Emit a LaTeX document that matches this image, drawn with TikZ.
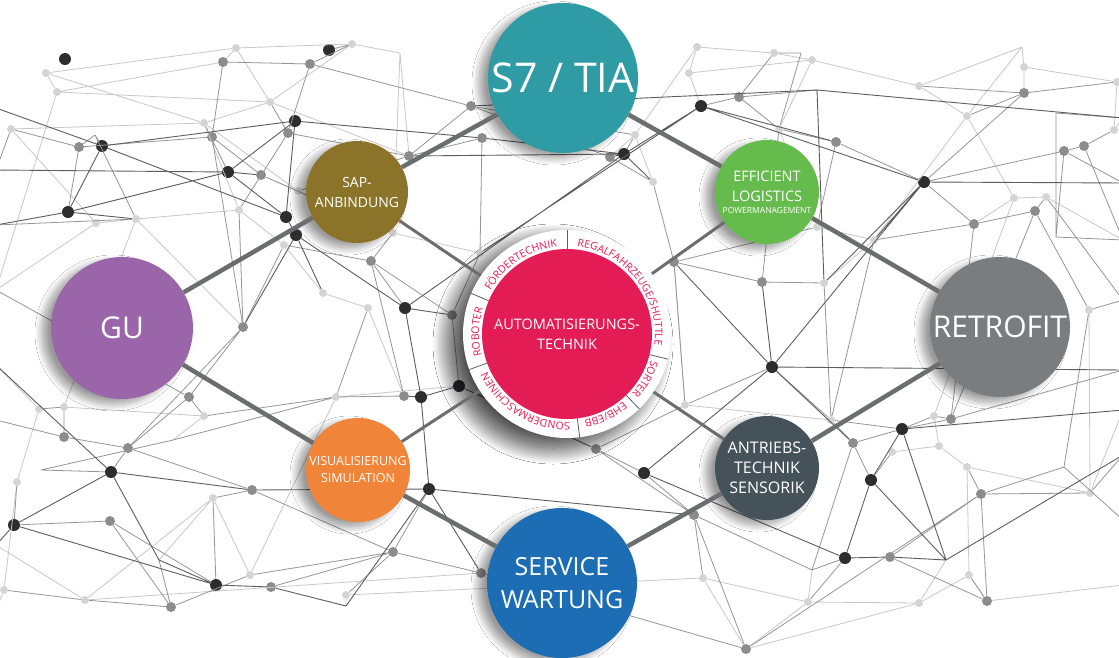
\documentclass[tikz,border=0pt]{standalone}
\usepackage{fontspec}
\setmainfont{Open Sans}
\usetikzlibrary{shadows.blur,decorations.text}

\definecolor{tiateal}{RGB}{47,156,165}
\definecolor{sapbrown}{RGB}{139,116,41}
\definecolor{logigreen}{RGB}{101,187,76}
\definecolor{gupurple}{RGB}{155,101,170}
\definecolor{retrogray}{RGB}{122,125,127}
\definecolor{autopink}{RGB}{228,28,85}
\definecolor{visorange}{RGB}{240,132,56}
\definecolor{drivegray}{RGB}{70,82,90}
\definecolor{serviceblue}{RGB}{29,109,180}
\definecolor{linkgray}{RGB}{108,109,111}
\definecolor{meshdark}{RGB}{92,93,95}
\definecolor{meshmid}{RGB}{150,150,152}
\definecolor{meshlight}{RGB}{200,200,202}
\definecolor{dotdark}{RGB}{45,45,48}
\definecolor{dotmid}{RGB}{140,140,142}
\definecolor{dotlight}{RGB}{212,212,214}

\newcommand{\ringfont}{\fontsize{10.5}{11}\selectfont}

\tikzset{
  hub/.style={circle, draw=none, text=white, inner sep=0pt, align=center,
    blur shadow={shadow xshift=-9pt, shadow yshift=-5pt, shadow blur radius=7pt, shadow blur steps=16, shadow opacity=40}},
  dk/.style={circle, fill=dotdark, inner sep=0pt, minimum size=12},
  md/.style={circle, fill=dotmid, inner sep=0pt, minimum size=10},
  lt/.style={circle, fill=dotlight, inner sep=0pt, minimum size=8},
  dkline/.style={draw=meshdark, line width=0.9pt},
  mdline/.style={draw=meshmid, line width=0.8pt},
  ltline/.style={draw=meshlight, line width=0.8pt},
  link/.style={draw=linkgray, line width=4.5pt},
  spoke/.style={draw=linkgray, line width=3pt},
  ringsep/.style={draw=meshdark, line width=0.8pt}
}

\begin{document}
\begin{tikzpicture}[x=1pt, y=1pt]
\useasboundingbox (0,0) rectangle (1119,-657);
\fill[white] (0,0) rectangle (1119,-657);

% mesh dots, upper left
\node[dk] (p1) at (65,-59) {};
\node[dk] (p2) at (329,-50) {};
\node[lt] (p3) at (352,-44) {};
\node[lt] (p4) at (236,-48) {};
\node[md] (p5) at (223,-62) {};
\node[md] (p6) at (310,-64) {};
\node[lt] (p7) at (46,-73) {};
\node[lt] (p8) at (57,-92) {};
\node[lt] (p9) at (11,-129) {};
\node[md] (p10) at (79,-147) {};
\node[dk] (p11) at (102,-146) {};
\node[lt] (p12) at (204,-123) {};
\node[md] (p13) at (212,-137) {};
\node[lt] (p14) at (270,-102) {};
\node[dk] (p15) at (295,-121) {};
\node[md] (p16) at (288,-133) {};
\node[dk] (p17) at (228,-172) {};
\node[md] (p18) at (261,-175) {};
\node[dk] (p19) at (68,-212) {};
\node[lt] (p20) at (96,-223) {};
\node[lt] (p21) at (136,-219) {};
\node[lt] (p22) at (239,-210) {};
\node[dk] (p23) at (286,-217) {};
\node[dk] (p24) at (296,-235) {};
\node[lt] (p25) at (298,-191) {};
\node[md] (p26) at (409,-156) {};
\node[md] (p27) at (471,-106) {};
\node[md] (p28) at (482,-138) {};
\node[md] (p29) at (371,-261) {};
\node[dk] (p30) at (405,-308) {};
\node[md] (p31) at (452,-315) {};
\node[md] (p32) at (243,-327) {};
\node[lt] (p33) at (284,-245) {};
\node[lt] (p34) at (323,-293) {};
\node[lt] (p35) at (368,-308) {};
\node[lt] (p36) at (393,-233) {};
\node[lt] (p37) at (480,-253) {};
\coordinate (c1) at (400,-53);
\coordinate (c2) at (95,-135);

% mesh dots, upper right
\node[lt] (q1) at (697,-47) {};
\node[lt] (q2) at (774,-53) {};
\node[lt] (q3) at (812,-60) {};
\node[lt] (q4) at (919,-86) {};
\node[lt] (q5) at (1024,-67) {};
\node[md] (q6) at (1024,-93) {};
\node[lt] (q7) at (1117,-82) {};
\node[lt] (q8) at (689,-73) {};
\node[md] (q9) at (739,-97) {};
\node[dk] (q10) at (701,-106) {};
\node[lt] (q11) at (635,-135) {};
\node[dk] (q12) at (624,-154) {};
\node[md] (q13) at (610,-157) {};
\node[lt] (q14) at (779,-129) {};
\node[md] (q15) at (836,-142) {};
\node[dk] (q16) at (924,-182) {};
\node[lt] (q17) at (967,-116) {};
\node[md] (q18) at (1064,-151) {};
\node[md] (q19) at (1084,-146) {};
\node[lt] (q20) at (1114,-130) {};
\node[md] (q21) at (974,-224) {};
\node[md] (q22) at (1035,-211) {};
\node[lt] (q23) at (1046,-197) {};
\node[lt] (q24) at (1014,-198) {};
\node[lt] (q25) at (874,-240) {};
\node[lt] (q26) at (817,-227) {};
\node[md] (q27) at (762,-282) {};
\node[lt] (q28) at (824,-283) {};
\node[md] (q29) at (674,-262) {};
\node[lt] (q30) at (653,-182) {};
\node[lt] (q31) at (1089,-310) {};
\coordinate (c3) at (801,-53);
\coordinate (c4) at (1022,-47);
\coordinate (c5) at (817,-90);
\coordinate (c6) at (1056,-113);
\coordinate (c7) at (1056,-237);

% mesh dots, lower left
\node[lt] (r1) at (39,-409) {};
\node[lt] (r2) at (64,-407) {};
\node[md] (r3) at (64,-437) {};
\node[md] (r4) at (128,-448) {};
\node[dk] (r5) at (111,-472) {};
\node[lt] (r6) at (17,-482) {};
\node[dk] (r7) at (14,-525) {};
\node[md] (r8) at (110,-521) {};
\node[lt] (r9) at (4,-590) {};
\node[lt] (r10) at (85,-600) {};
\node[md] (r11) at (171,-607) {};
\node[dk] (r12) at (216,-585) {};
\node[md] (r13) at (271,-587) {};
\node[lt] (r14) at (250,-575) {};
\node[lt] (r15) at (346,-595) {};
\node[md] (r16) at (393,-552) {};
\node[md] (r17) at (481,-573) {};
\node[md] (r18) at (252,-490) {};
\node[md] (r19) at (189,-397) {};
\node[lt] (r20) at (204,-416) {};
\node[lt] (r22) at (336,-397) {};
\node[md] (r23) at (404,-396) {};
\node[dk] (r24) at (421,-397) {};
\node[dk] (r25) at (429,-489) {};
\node[dk] (r26) at (459,-386) {};
\node[lt] (r27) at (213,-498) {};
\coordinate (c8) at (346,-606);
\coordinate (c9) at (159,-560);
\coordinate (c10) at (41,-470);
\coordinate (c11) at (173,-440);

% mesh dots, lower right
\node[dk] (s1) at (772,-367) {};
\node[md] (s2) at (596,-449) {};
\node[dk] (s3) at (644,-473) {};
\node[md] (s4) at (853,-443) {};
\node[dk] (s5) at (902,-429) {};
\node[dk] (s6) at (871,-480) {};
\node[dk] (s7) at (845,-558) {};
\node[md] (s8) at (890,-557) {};
\node[md] (s9) at (951,-419) {};
\node[lt] (s10) at (934,-416) {};
\node[lt] (s11) at (939,-446) {};
\node[lt] (s12) at (967,-467) {};
\node[md] (s13) at (981,-494) {};
\node[lt] (s14) at (1090,-493) {};
\node[md] (s15) at (694,-515) {};
\node[lt] (s16) at (703,-578) {};
\node[lt] (s17) at (808,-602) {};
\node[lt] (s18) at (919,-603) {};
\node[lt] (s19) at (969,-575) {};
\node[md] (s20) at (987,-601) {};
\node[md] (s21) at (746,-649) {};
\node[lt] (s22) at (831,-420) {};
\node[lt] (s23) at (685,-405) {};
\node[lt] (s24) at (892,-452) {};
\coordinate (c12) at (946,-560);
\coordinate (c13) at (1064,-467);
\coordinate (c14) at (812,-570);

% free ends at the borders
\coordinate (l1) at (-4,-108);
\coordinate (l2) at (-4,-170);
\coordinate (l3) at (-4,-225);
\coordinate (l4) at (-4,-290);
\coordinate (l5) at (-4,-365);
\coordinate (l6) at (-4,-420);
\coordinate (l8) at (-4,-545);
\coordinate (l9) at (-4,-610);
\coordinate (e1) at (1123,-118);
\coordinate (e2) at (1123,-183);
\coordinate (e3) at (1123,-240);
\coordinate (e4) at (1123,-300);
\coordinate (e5) at (1123,-370);
\coordinate (e6) at (1123,-410);
\coordinate (e7) at (1123,-455);
\coordinate (e8) at (1123,-520);
\coordinate (e9) at (1123,-585);

% light mesh
\draw[ltline] (p7) -- (p4) (p4) -- (p3) (p7) -- (p8) (p8) -- (p5) (p8) -- (p14) (p4) -- (p14)
  (p14) -- (p26) (p12) -- (p9) (p12) -- (p25) (p12) -- (p22) (p20) -- (p21) (p21) -- (p22)
  (p22) -- (p33) (p33) -- (p34) (p34) -- (p35) (p36) -- (p37) (p21) -- (p32) (p20) -- (p9)
  (c1) -- (p26) (c1) -- (p36) (p3) -- (c1) (p14) -- (p12) (p25) -- (p36) (p35) -- (r23)
  (p8) -- (l4) (p20) -- (l4) (p5) -- (p4) (p3) -- (p14) (p7) -- (p12) (p21) -- (r2);
\draw[ltline] (q1) -- (q2) (q1) -- (q8) (q8) -- (q3) (q3) -- (q4) (q4) -- (c4) (c4) -- (q5)
  (q5) -- (q7) (q1) -- (q11) (q11) -- (q13) (q17) -- (q25) (q17) -- (q24) (q24) -- (q23)
  (q30) -- (q11) (q14) -- (q26) (q26) -- (q25) (q25) -- (q28) (q8) -- (q10) (q3) -- (q14)
  (q4) -- (q17) (q20) -- (e1) (q23) -- (e3) (q24) -- (q21) (c4) -- (q17) (q2) -- (q3)
  (q5) -- (q6) (q7) -- (q20) (q24) -- (s10) (q31) -- (s14);
\draw[ltline] (r1) -- (r6) (r2) -- (r20) (r6) -- (r9) (r27) -- (r10) (r14) -- (r27) (r15) -- (c8)
  (r15) -- (s16) (r9) -- (l9) (r10) -- (r17) (r20) -- (c11) (r27) -- (c9) (r22) -- (r26)
  (r1) -- (l5) (r14) -- (r22) (r10) -- (l8);
\draw[ltline] (s16) -- (s17) (s17) -- (s18) (s18) -- (s19) (s19) -- (s12) (s11) -- (s12)
  (s10) -- (s11) (s12) -- (s14) (s18) -- (c12) (s17) -- (c14) (s16) -- (s21) (s22) -- (s23)
  (s23) -- (q29) (s24) -- (s11) (s14) -- (e6) (s19) -- (s20) (s21) -- (s18) (s20) -- (e9)
  (s17) -- (s21);
% mid mesh
\draw[mdline] (p5) -- (p6) (p3) -- (p6) (p5) -- (p13) (p6) -- (p16) (p6) -- (p27) (p10) -- (p13)
  (p10) -- (p19) (p13) -- (p18) (p16) -- (p26) (p18) -- (p25) (p26) -- (p27) (p26) -- (p28)
  (p29) -- (p31) (p29) -- (p36) (p32) -- (p33) (p16) -- (p22) (p13) -- (p32) (p10) -- (c2)
  (c2) -- (p21) (c2) -- (p11) (p2) -- (p3) (p9) -- (p10) (p27) -- (q11) (p28) -- (p37)
  (p31) -- (p37) (p29) -- (p30) (p32) -- (r19) (p33) -- (p29) (p14) -- (p16) (p22) -- (p32)
  (p18) -- (p36) (p25) -- (p26) (p12) -- (p17) (p9) -- (l2) (p21) -- (l3) (p32) -- (r4);
\draw[mdline] (q9) -- (q10) (q9) -- (q14) (q9) -- (q2) (q13) -- (p27) (q13) -- (q30) (q15) -- (q16)
  (q15) -- (q14) (q15) -- (q26) (q6) -- (q7) (q6) -- (q16) (q6) -- (q17) (q18) -- (q19)
  (q18) -- (q16) (q19) -- (e3) (q18) -- (c7) (c6) -- (c7) (c6) -- (e1) (c7) -- (e3)
  (q21) -- (q22) (q22) -- (q23) (q21) -- (q16) (q21) -- (q25) (q27) -- (q28) (q27) -- (q29)
  (q29) -- (q30) (q29) -- (s23) (q28) -- (s22) (q31) -- (e4) (q31) -- (q22) (q6) -- (q4)
  (q2) -- (c3) (c3) -- (q14) (c5) -- (q9) (q19) -- (q20) (q11) -- (q12) (q14) -- (q27)
  (q26) -- (q29) (q25) -- (s22) (q21) -- (s9) (q23) -- (e4) (q18) -- (e2);
\draw[mdline] (r3) -- (r4) (r4) -- (r5) (r1) -- (r2) (r2) -- (r3) (r6) -- (r7) (r7) -- (r8)
  (r8) -- (r11) (r9) -- (r10) (r10) -- (r11) (r11) -- (r14) (r14) -- (r16) (r16) -- (r17)
  (r15) -- (r16) (r13) -- (r16) (r8) -- (r12) (r19) -- (r20) (r20) -- (r22) (r22) -- (r23)
  (r18) -- (r27) (r4) -- (r19) (r3) -- (l6) (c10) -- (c11) (c10) -- (r5) (c11) -- (r22)
  (r11) -- (c9) (r23) -- (p29) (r26) -- (p31) (r17) -- (s21) (r16) -- (r25) (r19) -- (l4)
  (r22) -- (p35) (r18) -- (r16) (r4) -- (r18) (r27) -- (r12);
\draw[mdline] (s2) -- (s3) (s2) -- (s15) (s15) -- (s16) (s4) -- (s22) (s22) -- (s1) (s9) -- (s10)
  (s9) -- (q22) (s13) -- (s12) (s13) -- (s14) (s13) -- (s8) (s20) -- (s13) (s20) -- (s19)
  (s7) -- (s17) (s6) -- (s4) (s5) -- (s9) (s14) -- (e7) (c13) -- (e8) (c13) -- (s13)
  (c13) -- (q31) (s21) -- (s15) (s21) -- (s13) (s8) -- (s20) (s23) -- (s2) (s10) -- (s5)
  (c14) -- (s15) (c14) -- (s4) (s4) -- (s5) (s24) -- (s6) (s9) -- (e5) (s15) -- (s3)
  (c14) -- (s7) (s23) -- (s1) (s22) -- (s5);
% dark mesh
\draw[dkline] (p11) -- (p15) (p11) -- (p19) (p11) -- (p23) (p15) -- (p23) (p15) -- (p28)
  (p17) -- (p23) (p17) -- (p18) (p17) -- (p15) (p19) -- (p21) (p19) -- (l3) (p23) -- (p24)
  (p24) -- (p30) (p24) -- (p32) (p24) -- (p34) (p30) -- (p31) (p11) -- (l1) (p17) -- (l2)
  (p28) -- (q12) (q12) -- (q10) (q10) -- (q15) (q10) -- (q16) (q16) -- (e2) (q16) -- (q25)
  (q16) -- (s1) (c5) -- (e1) (c5) -- (q28) (c5) -- (p27) (s1) -- (q27) (s1) -- (s4) (s1) -- (s3)
  (s3) -- (s7) (s7) -- (s8) (s8) -- (c12) (c12) -- (s5) (s5) -- (s6) (s6) -- (s7) (s6) -- (c12)
  (s5) -- (e6) (c12) -- (e7) (r5) -- (r7) (r7) -- (r12) (r12) -- (r13) (r13) -- (c8)
  (r5) -- (c9) (r5) -- (r18) (r18) -- (r25) (r25) -- (r24) (r24) -- (r26) (r23) -- (r24)
  (r5) -- (l5) (r7) -- (l8) (r12) -- (c9) (r25) -- (s15) (c8) -- (r25) (q12) -- (p26)
  (q12) -- (p30) (q10) -- (p37) (q13) -- (q12) (s1) -- (e5) (p19) -- (p17) (q12) -- (q30)
  (q16) -- (q28) (s1) -- (q29) (r24) -- (p30) (r26) -- (s2) (r25) -- (r17);

% hubs
\node[hub, fill=tiateal, minimum size=150, font=\fontsize{41}{45}\selectfont] (tia) at (563,-78) {S7 / TIA};
\node[hub, fill=sapbrown, minimum size=102, font=\fontsize{14}{20}\selectfont] (sap) at (357,-192) {SAP-\\ANBINDUNG};
\node[hub, fill=logigreen, minimum size=104, font=\fontsize{14.5}{20}\selectfont] (logi) at (767,-192) {EFFICIENT\\LOGISTICS\\[-8pt]{\fontsize{8.5}{9}\selectfont POWERMANAGEMENT}};
\node[hub, fill=gupurple, minimum size=142, font=\fontsize{30}{34}\selectfont] (gu) at (122,-328) {GU};
\node[hub, fill=retrogray, minimum size=140, font=\fontsize{30}{34}\selectfont] (retro) at (1000,-327) {RETROFIT};
\node[hub, fill=visorange, minimum size=104, font=\fontsize{12.5}{17}\selectfont] (vis) at (358,-470) {VISUALISIERUNG\\SIMULATION};
\node[hub, fill=drivegray, minimum size=104, font=\fontsize{16}{20}\selectfont] (drive) at (767,-468) {ANTRIEBS-\\TECHNIK\\SENSORIK};
\node[hub, fill=serviceblue, minimum size=150, font=\fontsize{25}{33}\selectfont] (service) at (562,-583) {SERVICE\\WARTUNG};
\node[hub, fill=white, minimum size=208,
  blur shadow={shadow xshift=-14pt, shadow yshift=-10pt, shadow blur radius=16pt, shadow blur steps=30, shadow opacity=45}] (ring) at (567,-334) {};
\node[circle, fill=autopink, minimum size=170, inner sep=0pt, text=white, align=center,
  font=\fontsize{14.5}{20}\selectfont] (core) at (ring) {AUTOMATISIERUNGS-\\TECHNIK};

% ring labels
\begin{scope}[shift={(ring.center)}]
\foreach \a in {90,-14,-46,-83,200,157}
  \draw[ringsep] (\a:85) -- (\a:104);
\path[decorate, decoration={text along path, text align=center, text color=autopink,
  text={|\ringfont|FÖRDERTECHNIK}}] (157:88) arc[start angle=157, end angle=90, radius=88];
\path[decorate, decoration={text along path, text align=center, text color=autopink,
  text={|\ringfont|REGALFAHRZEUGE/SHUTTLE}}] (90:88) arc[start angle=90, end angle=-14, radius=88];
\path[decorate, decoration={text along path, text align=center, text color=autopink,
  text={|\ringfont|SORTER}}] (-14:88) arc[start angle=-14, end angle=-46, radius=88];
\path[decorate, decoration={text along path, text align=center, text color=autopink,
  text={|\ringfont|EHB/EBB}}] (-46:88) arc[start angle=-46, end angle=-83, radius=88];
\path[decorate, decoration={text along path, text align=center, text color=autopink,
  text={|\ringfont|SONDERMASCHINEN}}] (-83:88) arc[start angle=-83, end angle=-160, radius=88];
\path[decorate, decoration={text along path, text align=center, text color=autopink,
  text={|\ringfont|ROBOTER}}] (200:88) arc[start angle=200, end angle=157, radius=88];
\end{scope}

% main links
\draw[link] (gu) -- (sap);
\draw[link] (sap) -- (tia);
\draw[link] (tia) -- (logi);
\draw[link] (logi) -- (retro);
\draw[link] (gu) -- (vis);
\draw[link] (vis) -- (service);
\draw[link] (service) -- (drive);
\draw[link] (drive) -- (retro);
\draw[spoke] (ring) -- (sap);
\draw[spoke] (ring) -- (logi);
\draw[spoke] (ring) -- (vis);
\draw[spoke] (ring) -- (drive);
\end{tikzpicture}
\end{document}
